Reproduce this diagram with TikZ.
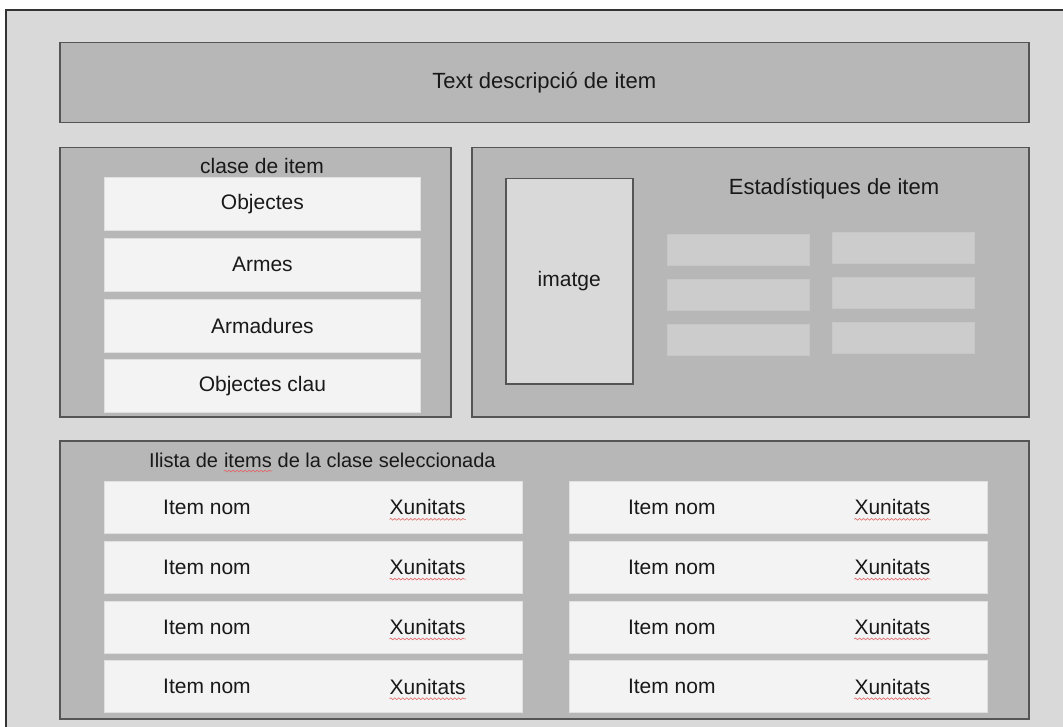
\documentclass[tikz,border=0pt]{standalone}
\usepackage{fontspec}
\setmainfont{Liberation Sans}
\usepackage{xcolor}
\usetikzlibrary{positioning,decorations.pathmorphing}

\definecolor{bggray}{HTML}{D9D9D9}
\definecolor{panelgray}{HTML}{B7B7B7}
\definecolor{edgegray}{HTML}{555555}
\definecolor{rowwhite}{HTML}{F3F3F3}
\definecolor{bargray}{HTML}{CCCCCC}
\definecolor{spellred}{HTML}{E06666}

\begin{document}
\begin{tikzpicture}[
    x=1pt, y=-1pt,
    font=\fontsize{21}{25}\selectfont,
    panel/.style={rectangle, draw=edgegray, line width=1.5pt, fill=panelgray, anchor=north west, inner sep=0pt},
    entry/.style={rectangle, draw=black!12, line width=0.8pt, fill=rowwhite, text=black!90, minimum width=316pt, minimum height=53pt, inner sep=0pt},
    itemrow/.style={entry, minimum width=418pt, minimum height=52pt},
    statbar/.style={rectangle, draw=black!22, line width=0.8pt, fill=bargray, minimum width=142pt, minimum height=31pt, inner sep=0pt},
    caption/.style={inner sep=0pt, text=black!90},
    bigcaption/.style={caption, font=\fontsize{22}{26}\selectfont},
    smallcaption/.style={caption, font=\fontsize{20}{24}\selectfont},
    spell/.style={draw=spellred, line width=0.6pt, decorate, decoration={snake, amplitude=0.9pt, segment length=4pt}}
]
    \useasboundingbox (0,0) rectangle (1063,727);
    \fill[white] (0,0) rectangle (1063,727);
    \draw[fill=bggray, draw=black!80, line width=1.5pt] (6,10) rectangle (1080,745);

    % header
    \node [panel, minimum width=969pt, minimum height=80pt] (head) at (59,42) {};
    \node [bigcaption] (headtxt) at (head.center) {Text descripció de item};

    % item class
    \node [panel, minimum width=391pt, minimum height=269pt] (clase) at (59,147) {};
    \node [caption] (clasetxt) at (262,166) {clase de item};
    \node [entry, anchor=north west] (obj) at (104,177) {Objectes};
    \node [entry, below=7pt of obj] (armes) {Armes};
    \node [entry, below=7pt of armes] (armad) {Armadures};
    \node [entry, below=7pt of armad] (clau) {Objectes clau};

    % statistics
    \node [panel, minimum width=557pt, minimum height=269pt] (stats) at (471,147) {};
    \node [rectangle, draw=edgegray, line width=1.5pt, fill=bggray, anchor=north west,
           minimum width=127pt, minimum height=205pt, text=black!90] (img) at (505,178) {imatge};
    \node [bigcaption] (statstxt) at (834,189) {Estadístiques de item};
    \node [statbar, anchor=north west] (sa) at (667,234) {};
    \node [statbar, below=13pt of sa] (sb) {};
    \node [statbar, below=13pt of sb] (sc) {};
    \node [statbar, anchor=north west] (ta) at (832,232) {};
    \node [statbar, below=13pt of ta] (tb) {};
    \node [statbar, below=13pt of tb] (tc) {};

    % item list
    \node [panel, minimum width=969pt, minimum height=278pt] (llista) at (59,440) {};
    \node [smallcaption, anchor=base west] (llistaa) at (149,467) {Ilista de};
    \node [smallcaption, base right=5.5pt of llistaa] (llistab) {items};
    \node [smallcaption, base right=5.5pt of llistab] (llistac) {de la clase seleccionada};

    \node [itemrow, anchor=north west] (ra) at (104,481) {};
    \node [itemrow, below=7pt of ra] (rb) {};
    \node [itemrow, below=7pt of rb] (rc) {};
    \node [itemrow, below=7pt of rc] (rd) {};
    \node [itemrow, right=46pt of ra] (qa) {};
    \node [itemrow, below=7pt of qa] (qb) {};
    \node [itemrow, below=7pt of qb] (qc) {};
    \node [itemrow, below=7pt of qc] (qd) {};

    \node [caption, right=59pt of ra.west] (ran) {Item nom};
    \node [caption, left=57pt of ra.east] (rau) {Xunitats};
    \node [caption, right=59pt of rb.west] (rbn) {Item nom};
    \node [caption, left=57pt of rb.east] (rbu) {Xunitats};
    \node [caption, right=59pt of rc.west] (rcn) {Item nom};
    \node [caption, left=57pt of rc.east] (rcu) {Xunitats};
    \node [caption, right=59pt of rd.west] (rdn) {Item nom};
    \node [caption, left=57pt of rd.east] (rdu) {Xunitats};

    \node [caption, right=59pt of qa.west] (qan) {Item nom};
    \node [caption, left=57pt of qa.east] (qau) {Xunitats};
    \node [caption, right=59pt of qb.west] (qbn) {Item nom};
    \node [caption, left=57pt of qb.east] (qbu) {Xunitats};
    \node [caption, right=59pt of qc.west] (qcn) {Item nom};
    \node [caption, left=57pt of qc.east] (qcu) {Xunitats};
    \node [caption, right=59pt of qd.west] (qdn) {Item nom};
    \node [caption, left=57pt of qd.east] (qdu) {Xunitats};

    % spell checker marks
    \draw [spell] ([yshift=-4pt]llistab.base west) -- ([yshift=-4pt]llistab.base east);
    \draw [spell] ([yshift=-4pt]rau.south west) -- ([yshift=-4pt]rau.south east);
    \draw [spell] ([yshift=-4pt]rbu.south west) -- ([yshift=-4pt]rbu.south east);
    \draw [spell] ([yshift=-4pt]rcu.south west) -- ([yshift=-4pt]rcu.south east);
    \draw [spell] ([yshift=-4pt]rdu.south west) -- ([yshift=-4pt]rdu.south east);
    \draw [spell] ([yshift=-4pt]qau.south west) -- ([yshift=-4pt]qau.south east);
    \draw [spell] ([yshift=-4pt]qbu.south west) -- ([yshift=-4pt]qbu.south east);
    \draw [spell] ([yshift=-4pt]qcu.south west) -- ([yshift=-4pt]qcu.south east);
    \draw [spell] ([yshift=-4pt]qdu.south west) -- ([yshift=-4pt]qdu.south east);

\end{tikzpicture}
\end{document}
